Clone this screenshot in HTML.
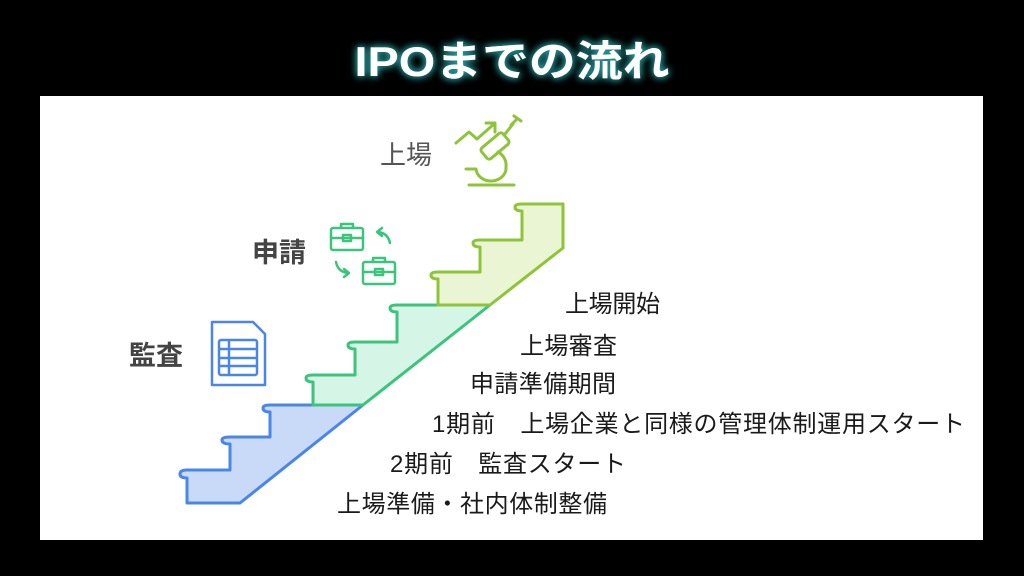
<!DOCTYPE html>
<html><head><meta charset="utf-8"><style>
html,body{margin:0;padding:0;background:#000;width:1024px;height:576px;overflow:hidden}
svg{display:block}
.t{font-family:"Liberation Sans","Noto Sans CJK JP",sans-serif;font-size:24px;fill:#1a1a1a}
</style></head><body>
<svg width="1024" height="576" viewBox="0 0 1024 576" xmlns="http://www.w3.org/2000/svg">
<defs>
<filter id="glow" x="-20%" y="-50%" width="140%" height="200%">
<feGaussianBlur stdDeviation="4" result="b"/>
<feMerge><feMergeNode in="b"/><feMergeNode in="b"/><feMergeNode in="SourceGraphic"/></feMerge>
</filter>
</defs>
<rect width="1024" height="576" fill="#000"/>
<text x="512" y="76" text-anchor="middle" font-family="'Liberation Sans','Noto Sans CJK JP',sans-serif" font-weight="bold" font-size="42" fill="#4ff" filter="url(#glow)" opacity="0.6" textLength="315" lengthAdjust="spacingAndGlyphs">IPOまでの流れ</text>
<text x="512" y="76" text-anchor="middle" font-family="'Liberation Sans','Noto Sans CJK JP',sans-serif" font-weight="bold" font-size="42" fill="#fff" textLength="315" lengthAdjust="spacingAndGlyphs">IPOまでの流れ</text>
<rect x="40" y="96" width="943" height="444" fill="#fff"/>

<path d="M187,503 L187,478 Q180,478 180,474 Q180,470 187,470 L230,470 L230,444 Q222,444 222,440 Q222,437 230,437 L270,437 L270,412 Q263,412 263,408 Q263,405 270,405 L363,405 L240,503 Z" fill="#c9daf8" stroke="#4a86e8" stroke-width="3" stroke-linejoin="round"/>
<path d="M313,405 L313,382 Q306,382 306,378 Q306,375 313,375 L355,375 L355,349 Q348,349 348,345 Q348,342 355,342 L397,342 L397,312 Q390,312 390,308 Q390,305 397,305 L490,305 L363,405 Z" fill="#d5f5e6" stroke="#3cc47c" stroke-width="3" stroke-linejoin="round"/>
<path d="M438,305 L438,279 Q431,279 431,275 Q431,272 438,272 L480,272 L480,247 Q473,247 473,243 Q473,240 480,240 L522,240 L522,211 Q515,211 515,207 Q515,204 522,204 L563,204 L563,248 L490,305 Z" fill="#eaf5d4" stroke="#8fc43a" stroke-width="3" stroke-linejoin="round"/>

<text class="t" x="565" y="312" textLength="95">上場開始</text>
<text class="t" x="520" y="354" textLength="97">上場審査</text>
<text class="t" x="470" y="392" textLength="146">申請準備期間</text>
<text class="t" x="432" y="432" textLength="533">1期前　上場企業と同様の管理体制運用スタート</text>
<text class="t" x="390" y="472" textLength="236">2期前　監査スタート</text>
<text class="t" x="337" y="512" textLength="270">上場準備・社内体制整備</text>

<text class="t" x="380" y="164" style="fill:#555;font-size:26px">上場</text>
<text class="t" x="252" y="262" style="fill:#444;font-weight:bold;font-size:27px">申請</text>
<text class="t" x="129" y="365" style="fill:#444;font-weight:bold;font-size:27px">監査</text>

<g fill="none" stroke="#4a86e8" stroke-width="2.5" stroke-linejoin="round">
<path d="M212,322 L253,322 L265,334 L265,385 L212,385 Z"/>
<rect x="219" y="340" width="38" height="35" rx="2"/>
<line x1="219" y1="349" x2="257" y2="349"/><line x1="219" y1="358" x2="257" y2="358"/><line x1="219" y1="366" x2="257" y2="366"/>
<line x1="229" y1="340" x2="229" y2="375"/>
</g>
<g fill="none" stroke="#3cc47c" stroke-width="2.5" stroke-linejoin="round" stroke-linecap="round">
<rect x="331" y="228" width="32" height="22" rx="2"/><path d="M341,228 v-4 h12 v4 M331,238 h32"/><rect x="343" y="235" width="8" height="6"/>
<rect x="363" y="262" width="32" height="22" rx="2"/><path d="M373,262 v-4 h12 v4 M363,272 h32"/><rect x="375" y="269" width="8" height="6"/>
<path d="M390,243 Q388,233 378,232 M382,228 l-5,4 l5,4"/>
<path d="M336,262 Q338,272 348,273 M344,269 l5,4 l-5,4"/>
</g>
<g fill="none" stroke="#8fc43a" stroke-width="3" stroke-linejoin="round" stroke-linecap="round">
<path d="M456,143 L469,132 L477,139 L494,124 M486,123 h9 v9"/>
<rect x="481" y="139" width="28" height="14" rx="3" transform="rotate(-40 495 146)"/>
<path d="M505,134 l8,-10 M511,125 l6,-6 M514,116 l7,5"/>
<path d="M466,169 h10 a15,13 0 0 0 30,-2 a15,15 0 0 0 -8,-15"/>
<line x1="469" y1="185" x2="514" y2="185"/>
</g>
</svg>
</body></html>
